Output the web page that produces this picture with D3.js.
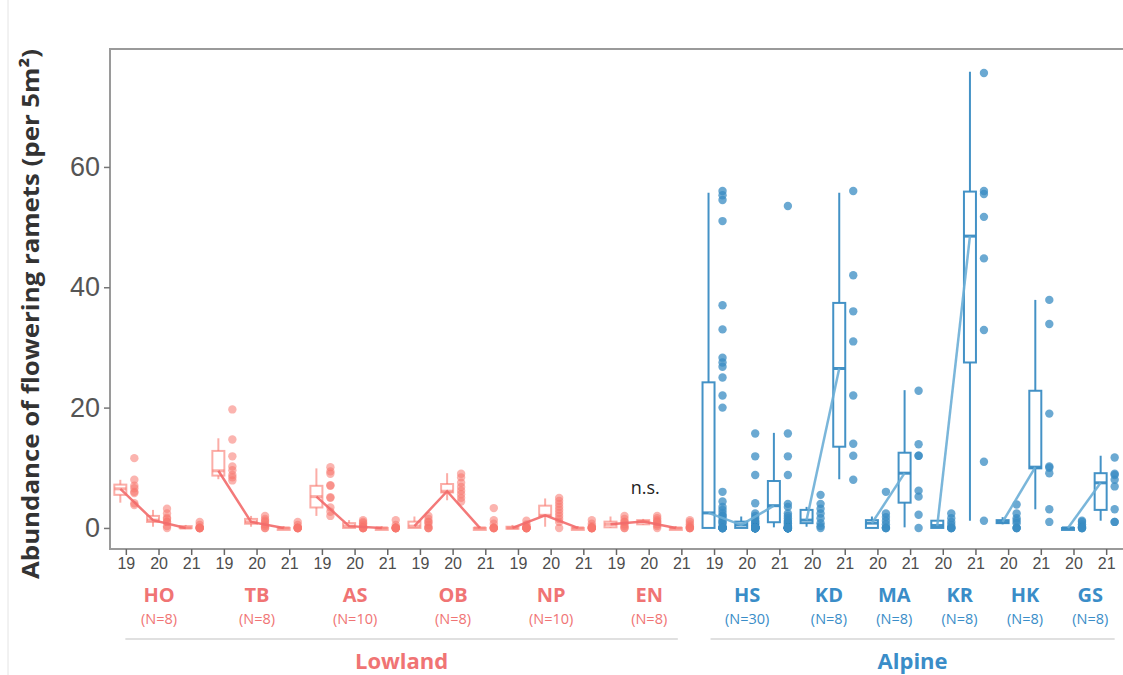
<!DOCTYPE html>
<html>
<head>
<meta charset="utf-8">
<script src="https://cdn.jsdelivr.net/npm/d3@7"></script>
<style>
  body { margin: 0; background: #fff; }
  svg { display: block; }
</style>
</head>
<body>
<div id="chart"></div>
<script>
// Sites, in plot order
var sites = ["HO", "TB", "AS", "OB", "NP", "EN", "HS", "KD", "MA", "KR", "HK", "GS"];
var siteN = [8, 8, 10, 8, 10, 8, 30, 8, 8, 8, 8, 8];
var siteRegion = ["Lowland", "Lowland", "Lowland", "Lowland", "Lowland", "Lowland",
                  "Alpine", "Alpine", "Alpine", "Alpine", "Alpine", "Alpine"];
var siteYears = [
  ["19", "20", "21"], ["19", "20", "21"], ["19", "20", "21"],
  ["19", "20", "21"], ["19", "20", "21"], ["19", "20", "21"],
  ["19", "20", "21"], ["20", "21"], ["20", "21"], ["20", "21"], ["20", "21"], ["20", "21"]
];

// box summary per site and year: [whisker low, q1, median, q3, whisker high]
var boxStats = [
  [[4.2, 5.5, 6.5, 7.2, 8.0], [0.2, 1.0, 1.3, 2.0, 3.0], [0, 0, 0, 0.3, 0.5]],
  [[8.1, 8.7, 9.5, 12.8, 14.9], [0.2, 0.7, 1.0, 1.5, 2.0], [0, 0, 0, 0, 0.3]],
  [[2.0, 3.4, 5.2, 7.0, 9.9], [0, 0, 0.3, 0.8, 1.3], [0, 0, 0, 0, 0.3]],
  [[0, 0, 0.3, 1.05, 1.9], [4.6, 5.9, 6.1, 7.3, 9.1], [0, 0, 0, 0, 0.3]],
  [[0, 0, 0, 0.2, 0.5], [0.2, 2.0, 2.1, 3.7, 4.9], [0, 0, 0, 0, 0.3]],
  [[0, 0.1, 0.6, 1.05, 1.9], [0.5, 0.6, 1.05, 1.3, 1.5], [0, 0, 0, 0, 0.3]],
  [[0, 0, 2.5, 24.2, 55.7], [0, 0, 0.5, 1.05, 1.9], [0.1, 0.95, 3.7, 7.8, 15.8]],
  [[0.2, 0.8, 1.3, 3.0, 3.5], [8.1, 13.5, 26.5, 37.4, 55.7]],
  [[0, 0, 0.8, 1.3, 1.9], [0.1, 4.2, 9.1, 12.5, 22.9]],
  [[0, 0, 0.4, 1.2, 1.2], [1.2, 27.5, 48.5, 55.9, 75.8]],
  [[0.6, 0.8, 1.0, 1.3, 1.8], [3.1, 9.9, 10.1, 22.8, 37.9]],
  [[0, 0, 0, 0, 0], [1.2, 3.0, 7.5, 9.1, 12.0]]
];

// raw plot values (flowering ramets per 5 m2)
var plotValues = [
  [[11.6, 8, 7, 6.6, 6, 5.8, 4.1, 3.8], [3.2, 2.4, 1.7, 1.5, 1, 1, 0.3, 0], [1, 0.5, 0, 0, 0, 0, 0, 0]],
  [[19.7, 14.7, 11.9, 10.2, 9.6, 8.8, 8.4, 7.9], [2, 1.5, 1.2, 1, 0.6, 0.3, 0, 0], [1, 0.5, 0, 0, 0, 0, 0, 0]],
  [[10.1, 9.4, 9, 7.1, 7, 5.1, 5, 3.4, 2.7, 2], [1.3, 1, 0.8, 0.5, 0.3, 0, 0, 0, 0, 0], [1.3, 0.5, 0, 0, 0, 0, 0, 0, 0, 0]],
  [[2, 1.5, 1, 1, 0.5, 0, 0, 0], [9, 8.4, 7.5, 6.8, 6.2, 5.6, 5, 4.4], [3.3, 1.3, 0.7, 0, 0, 0, 0, 0]],
  [[1.2, 0.6, 0.3, 0, 0, 0, 0, 0, 0, 0], [5, 4.5, 4, 3.5, 3, 2.5, 2, 1.5, 1, 0], [1.3, 0.7, 0.3, 0, 0, 0, 0, 0, 0, 0]],
  [[2, 1.5, 1, 1, 0.6, 0.3, 0, 0], [2, 1.6, 1.3, 1, 1, 0.6, 0.3, 0], [1.3, 1, 0.6, 0.3, 0, 0, 0, 0]],
  [[56, 55.3, 54.5, 51, 37, 33, 28.3, 27.5, 26.8, 25, 22, 20, 6, 4.4, 3.5, 3, 2.5, 2, 2, 1.5, 1, 1, 0.5, 0, 0, 0, 0, 0, 0, 0],
   [15.7, 11.9, 8.8, 4.1, 2.4, 2, 1.6, 1.2, 1, 0.8, 0.5, 0.3, 0, 0, 0, 0, 0, 0, 0, 0, 0, 0, 0, 0, 0, 0, 0, 0, 0, 0],
   [53.5, 15.7, 11.9, 8.8, 4, 3.5, 2.4, 2, 1.6, 1.2, 1, 0.8, 0.5, 0.3, 0, 0, 0, 0, 0, 0, 0, 0, 0, 0, 0, 0, 0, 0, 0, 0]],
  [[5.5, 4, 3.2, 2.4, 1.6, 0.8, 0.3, 0], [56, 42, 36, 31, 22, 14, 12, 8]],
  [[6, 2.4, 1.8, 1.2, 0.6, 0, 0, 0], [22.8, 13.9, 12, 12, 6.2, 5.2, 2.2, 0]],
  [[2.4, 1.6, 1, 0.5, 0, 0, 0, 0], [75.6, 56, 55.5, 51.7, 44.8, 32.9, 11, 1.2]],
  [[3.9, 2.4, 1.6, 1.2, 0.8, 0, 0, 0], [37.9, 33.9, 19, 10.2, 10, 9.1, 3.1, 1]],
  [[1.2, 1, 0.6, 0.3, 0, 0, 0, 0], [11.7, 9, 8.8, 8, 6.9, 3.1, 1, 1]]
];

var yTicks = [0, 20, 40, 60];
var yTitle = "Abundance of flowering ramets (per 5m²)";

var regionColor = { Lowland: "#F8766D", Alpine: "#3A8CC3" };
var lineColor = { Lowland: "#F26A6A", Alpine: "#6BAED6" };
var labelColor = { Lowland: "#F07474", Alpine: "#3A8DC8" };

var width = 1123, height = 675;
var plot = { left: 110, top: 49, right: 1123, bottom: 549 };

var svg = d3.select("#chart").append("svg")
  .attr("width", width)
  .attr("height", height);

// flatten into one row per site-year
var groups = [];
sites.forEach(function(s, i) {
  siteYears[i].forEach(function(yr, j) {
    groups.push({
      key: s + "-" + yr, site: s, siteIndex: i, year: yr,
      region: siteRegion[i], stats: boxStats[i][j], values: plotValues[i][j]
    });
  });
});

var x = d3.scaleBand()
  .domain(groups.map(function(d) { return d.key; }))
  .range([plot.left, plot.right]);

var y = d3.scaleLinear()
  .domain([-3.5, 79.6])
  .range([plot.bottom, plot.top]);

var tickX = function(k) { return x(k) + x.bandwidth() / 2; };
var boxOff = -6, ptOff = 8, boxW = 12;

// faint page edge line
svg.append("line")
  .attr("x1", 8).attr("x2", 8).attr("y1", 0).attr("y2", height)
  .attr("stroke", "#e4e4e4").attr("stroke-width", 1);

// frame: top, left, bottom
svg.append("path")
  .attr("d", "M" + plot.right + "," + plot.top + "H" + plot.left + "V" + plot.bottom + "H" + plot.right)
  .attr("fill", "none")
  .attr("stroke", "#9a9a9a")
  .attr("stroke-width", 2);

// y axis
var yAxis = svg.append("g")
  .attr("transform", "translate(" + plot.left + ",0)")
  .call(d3.axisLeft(y).tickValues(yTicks).tickSize(6).tickPadding(4));
yAxis.select(".domain").remove();
yAxis.selectAll("line").attr("stroke", "#777").attr("stroke-width", 1.5);
yAxis.selectAll("text")
  .attr("fill", "#555")
  .style("font-family", "'Liberation Sans', Arial, sans-serif")
  .style("font-size", "27px");

// x axis
var xAxis = svg.append("g")
  .attr("transform", "translate(0," + plot.bottom + ")")
  .call(d3.axisBottom(x).tickSize(6).tickPadding(3)
    .tickFormat(function(k) { return k.split("-")[1]; }));
xAxis.select(".domain").remove();
xAxis.selectAll("line").attr("stroke", "#666").attr("stroke-width", 1.5);
xAxis.selectAll("text")
  .attr("fill", "#4d4d4d")
  .style("font-family", "'Liberation Sans', Arial, sans-serif")
  .style("font-size", "16px");

// boxes
var box = svg.append("g").selectAll("g.box")
  .data(groups)
  .enter().append("g")
  .attr("class", "box")
  .attr("transform", function(d) { return "translate(" + (tickX(d.key) + boxOff) + ",0)"; });

box.append("line")
  .attr("y1", function(d) { return y(d.stats[0]); })
  .attr("y2", function(d) { return y(d.stats[4]); })
  .attr("stroke", function(d) { return regionColor[d.region]; })
  .attr("stroke-opacity", function(d) { return d.region === "Lowland" ? 0.6 : 0.95; })
  .attr("stroke-width", 2);

box.append("rect")
  .attr("x", -boxW / 2)
  .attr("width", boxW)
  .attr("y", function(d) { return y(d.stats[3]); })
  .attr("height", function(d) { return Math.max(2, y(d.stats[1]) - y(d.stats[3])); })
  .attr("fill", "#fff")
  .attr("stroke", function(d) { return regionColor[d.region]; })
  .attr("stroke-opacity", function(d) { return d.region === "Lowland" ? 0.6 : 0.95; })
  .attr("stroke-width", 2);

box.append("line")
  .attr("x1", -boxW / 2).attr("x2", boxW / 2)
  .attr("y1", function(d) { return y(d.stats[2]); })
  .attr("y2", function(d) { return y(d.stats[2]); })
  .attr("stroke", function(d) { return regionColor[d.region]; })
  .attr("stroke-opacity", function(d) { return d.region === "Lowland" ? 0.6 : 0.95; })
  .attr("stroke-width", 3);

// points
var pts = [];
groups.forEach(function(g) {
  g.values.forEach(function(v) { pts.push({ key: g.key, region: g.region, value: v }); });
});
svg.append("g").selectAll("circle")
  .data(pts)
  .enter().append("circle")
  .attr("cx", function(d) { return tickX(d.key) + ptOff; })
  .attr("cy", function(d) { return y(d.value); })
  .attr("r", 4.2)
  .attr("fill", function(d) { return regionColor[d.region]; })
  .attr("fill-opacity", function(d) { return d.region === "Lowland" ? 0.55 : 0.75; });

// median trend lines within each site
var line = d3.line()
  .x(function(d) { return tickX(d.key) + boxOff; })
  .y(function(d) { return y(d.stats[2]); });
svg.append("g").selectAll("path")
  .data(d3.groups(groups, function(d) { return d.site; }))
  .enter().append("path")
  .attr("d", function(d) { return line(d[1]); })
  .attr("fill", "none")
  .attr("stroke", function(d) { return lineColor[d[1][0].region]; })
  .attr("stroke-width", 2.5)
  .attr("stroke-opacity", 0.9);

// n.s. label
svg.append("text")
  .attr("x", tickX("EN-20") - 4)
  .attr("y", y(5.6))
  .attr("text-anchor", "middle")
  .attr("fill", "#222")
  .style("font-family", "'Open Sans', sans-serif")
  .style("font-size", "18px")
  .text("n.s.");

// site labels
var siteLab = svg.append("g").selectAll("g")
  .data(sites)
  .enter().append("g")
  .attr("transform", function(s, i) {
    var ks = siteYears[i].map(function(yr) { return s + "-" + yr; });
    var cx = (tickX(ks[0]) + tickX(ks[ks.length - 1])) / 2;
    return "translate(" + cx + ",0)";
  });
siteLab.append("text")
  .attr("y", 602)
  .attr("text-anchor", "middle")
  .attr("fill", function(s, i) { return labelColor[siteRegion[i]]; })
  .style("font-family", "'Open Sans', sans-serif")
  .style("font-weight", "bold")
  .style("font-size", "20px")
  .text(function(s) { return s; });
siteLab.append("text")
  .attr("y", 624)
  .attr("text-anchor", "middle")
  .attr("fill", function(s, i) { return labelColor[siteRegion[i]]; })
  .style("font-family", "'Open Sans', sans-serif")
  .style("font-size", "14.5px")
  .text(function(s, i) { return "(N=" + siteN[i] + ")"; });

// region labels with separator lines
var regions = ["Lowland", "Alpine"];
var regionPad = { Lowland: [-1, -4], Alpine: [-4, 8] };
regions.forEach(function(r) {
  var ks = groups.filter(function(g) { return g.region === r; });
  var x0 = tickX(ks[0].key) + regionPad[r][0], x1 = tickX(ks[ks.length - 1].key) + regionPad[r][1];
  svg.append("line")
    .attr("x1", x0).attr("x2", x1).attr("y1", 639).attr("y2", 639)
    .attr("stroke", "#d6d6d6").attr("stroke-width", 1.5);
  svg.append("text")
    .attr("x", (x0 + x1) / 2)
    .attr("y", 669)
    .attr("text-anchor", "middle")
    .attr("fill", labelColor[r])
    .style("font-family", "'Open Sans', sans-serif")
    .style("font-weight", "bold")
    .style("font-size", "22px")
    .text(r);
});

// y title
svg.append("text")
  .attr("transform", "translate(39,314) rotate(-90)")
  .attr("text-anchor", "middle")
  .attr("fill", "#333")
  .attr("textLength", 530)
  .attr("lengthAdjust", "spacingAndGlyphs")
  .style("font-family", "'Open Sans', sans-serif")
  .style("font-weight", "bold")
  .style("font-size", "24px")
  .text(yTitle);
</script>
</body>
</html>
